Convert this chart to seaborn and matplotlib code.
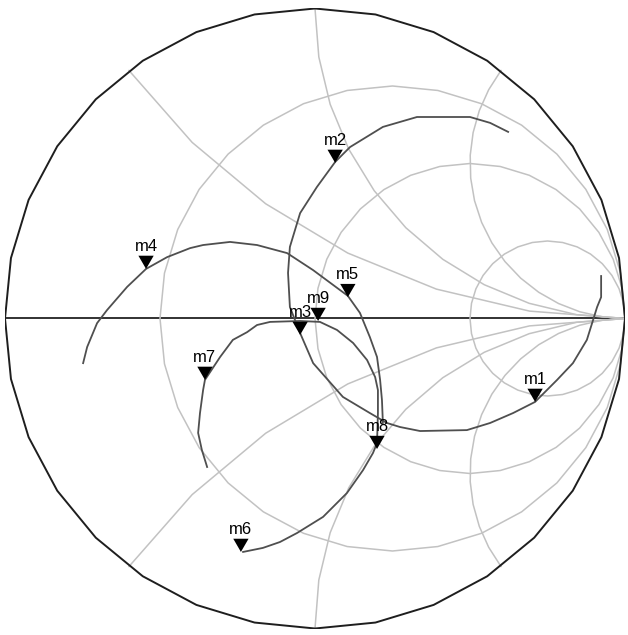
import numpy as np
import pandas as pd
import matplotlib
matplotlib.use("Agg")
import matplotlib.pyplot as plt
from matplotlib.path import Path
import seaborn as sns

# Reflection-coefficient traces (real, imag of Gamma)
trace_a_re = [0.923, 0.923, 0.910, 0.897, 0.877, 0.832, 0.781, 0.710, 0.639, 0.565,
              0.490, 0.339, 0.274, 0.232, 0.177, 0.090, -0.006, -0.048, -0.081, -0.087,
              -0.081, -0.048, 0.006, 0.065, 0.113, 0.219, 0.329, 0.500, 0.565, 0.623]
trace_a_im = [0.137, 0.069, 0.037, -0.005, -0.069, -0.144, -0.198, -0.269, -0.305, -0.337,
              -0.360, -0.363, -0.350, -0.337, -0.305, -0.253, -0.144, -0.047, 0.037, 0.147,
              0.231, 0.340, 0.424, 0.505, 0.553, 0.618, 0.650, 0.650, 0.631, 0.602]

trace_b_re = [-0.748, -0.735, -0.703, -0.671, -0.606, -0.545, -0.477, -0.403, -0.361, -0.274,
              -0.187, -0.090, -0.006, 0.106, 0.145, 0.177, 0.200, 0.210, 0.216, 0.219]
trace_b_im = [-0.144, -0.092, -0.015, 0.027, 0.102, 0.160, 0.198, 0.227, 0.237, 0.247,
              0.237, 0.211, 0.156, 0.073, 0.018, -0.060, -0.124, -0.198, -0.263, -0.337]

trace_c_re = [-0.232, -0.168, -0.113, -0.058, 0.026, 0.103, 0.155, 0.187, 0.200, 0.203,
              0.203, 0.194, 0.168, 0.123, 0.071, 0.016, -0.048, -0.145, -0.187, -0.219,
              -0.265, -0.306, -0.355, -0.361, -0.371, -0.377, -0.365, -0.348]
trace_c_im = [-0.753, -0.740, -0.721, -0.692, -0.640, -0.563, -0.489, -0.434, -0.402, -0.305,
              -0.231, -0.189, -0.134, -0.079, -0.037, -0.011, -0.008, -0.011, -0.021, -0.044,
              -0.069, -0.124, -0.198, -0.231, -0.305, -0.369, -0.424, -0.479]

# Markers
marker_names = ["m1", "m2", "m3", "m4", "m5", "m6", "m7", "m8", "m9"]
marker_re = [0.710, 0.065, -0.048, -0.545, 0.106, -0.239, -0.355, 0.200, 0.010]
marker_im = [-0.269, 0.502, -0.053, 0.160, 0.069, -0.753, -0.198, -0.421, -0.008]

# Smith chart grid values
resistances = [1 / 3, 1.0, 3.0]
reactances = [0.5, 1.0, 2.0, -0.5, -1.0, -2.0]

GRID = "#c2c2c2"
TRACE = "#4f4f4f"

W, H, DPI = 628, 635, 100
fig = plt.figure(figsize=(W / DPI, H / DPI), dpi=DPI)
cx, cy, R = 315.0, 635 - 318.5, 310.0
ax = fig.add_axes([(cx - R) / W, (cy - R) / H, 2 * R / W, 2 * R / H])
ax.set_xlim(-1, 1)
ax.set_ylim(-1, 1)
ax.axis("off")

# Real axis
ax.plot([-1, 1], [0, 0], color="#222222", lw=1.3, zorder=1)

# Constant-resistance circles (coarse polygons)
n_poly = 32
t = np.linspace(0, 2 * np.pi, n_poly + 1)
for r in resistances:
    c, rad = r / (1 + r), 1 / (1 + r)
    ax.plot(c + rad * np.cos(t), rad * np.sin(t), color=GRID, lw=1.1, zorder=2)

# Constant-reactance arcs
for x in reactances:
    c_im, rad = 1 / x, 1 / abs(x)
    p_re = (x * x - 1) / (x * x + 1)
    p_im = 2 * x / (x * x + 1)
    a0 = -np.pi / 2 if x > 0 else np.pi / 2
    a1 = np.arctan2(p_im - c_im, p_re - 1)
    if x > 0:
        if a1 > a0:
            a1 -= 2 * np.pi
    else:
        if a1 < a0:
            a1 += 2 * np.pi
    n = max(3, int(np.ceil(abs(a1 - a0) / (2 * np.pi / 40))))
    a = np.linspace(a0, a1, n + 1)
    ax.plot(1 + rad * np.cos(a), c_im + rad * np.sin(a), color=GRID, lw=1.1, zorder=2)

# Outer boundary |Gamma| = 1
ax.plot(np.cos(t), np.sin(t), color="#1e1e1e", lw=1.4, zorder=3)

# Traces
for re, im in [(trace_a_re, trace_a_im), (trace_b_re, trace_b_im), (trace_c_re, trace_c_im)]:
    df = pd.DataFrame({"re": re, "im": im})
    sns.lineplot(data=df, x="re", y="im", sort=False, estimator=None,
                 color=TRACE, lw=1.3, ax=ax, zorder=4)
ax.set_xlabel("")
ax.set_ylabel("")
ax.set_xlim(-1, 1)
ax.set_ylim(-1, 1)

# Marker triangles with the tip on the trace point
tip_down = Path([(-0.58, 1.0), (0.58, 1.0), (0.0, 0.0), (-0.58, 1.0)],
                [Path.MOVETO, Path.LINETO, Path.LINETO, Path.CLOSEPOLY])
mdf = pd.DataFrame({"re": marker_re, "im": marker_im, "name": marker_names})
sns.scatterplot(data=mdf, x="re", y="im", marker=tip_down, s=19 ** 2,
                color="black", edgecolor="none", ax=ax, zorder=5)
for name, re, im in zip(marker_names, marker_re, marker_im):
    ax.annotate(name, (re, im), xytext=(0, 16), textcoords="offset points",
                ha="center", va="center", fontsize=12,
                family=["Liberation Sans", "DejaVu Sans"], color="black", zorder=6)
ax.set_xlabel("")
ax.set_ylabel("")
ax.axis("off")

fig.savefig("out.png", dpi=DPI, facecolor="white")
